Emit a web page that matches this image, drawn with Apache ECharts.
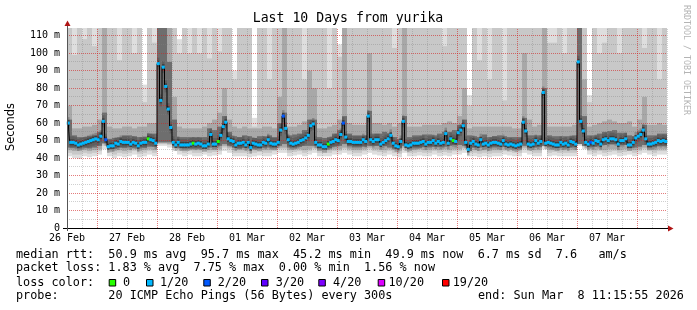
<!DOCTYPE html>
<html><head><meta charset="utf-8">
<script src="https://cdn.jsdelivr.net/npm/echarts@6.0.0/dist/echarts.min.js"></script>
<style>html,body{margin:0;padding:0;background:#fff}#c{width:697px;height:310px}</style>
</head><body><div id="c"></div>
<script>
// ---------- data ----------
const titleText = 'Last 10 Days from yurika';
const dayLabels = ['26 Feb','27 Feb','28 Feb','01 Mar','02 Mar','03 Mar','04 Mar','05 Mar','06 Mar','07 Mar'];
// hours since 26 Feb 12:00
const midnightHours = [12,36,60,84,108,132,156,180,204,228];
const minorHours = [6,18,24,30,42,48,54,66,72,78,90,96,102,114,120,126,138,144,150,162,168,174,186,192,198,210,216,222,234,240];
const majorValues = [10,20,30,40,50,60,70,80,90,100,110];
const minorValues = [5,15,25,35,45,55,65,75,85,95,105];
const Y_MAX = 114.4;

// hourly median rtt (ms), 240 bins
const median = [
60,49,49,48.5,47.5,48,48.5,49,49.5,50,
50.5,51,50.5,52.5,61,50.5,46.5,47,47,48.5,
48,49.5,49,49,49,48,49,48.5,47,48.5,
49,49,51,50.5,50,48.5,94,73,92,81,
68,57.5,49,47.5,49,47.5,47.5,47.5,47.5,48,
48.5,48,48.5,48,47,47,48,53.5,48,48,
49.5,53,58,60.5,51,50,49.5,47.5,48.5,48.5,
49,47.5,49,46,48.5,48,47.5,47.5,49,48.5,
50.5,48.5,48,48,49,56,64,57,50.5,48.5,
48,48.5,49,50,50.5,51.5,53,58.5,59.5,49,
47.5,47.5,46.5,46.5,48,49,49.5,50.5,50,53.5,
60,52,49.5,49.5,49,49,49,49,50.5,49.5,
64,50.5,49.5,50.5,50.5,48,49,50,51,53,
48.5,47,46.5,49.5,61,47.5,47,47.5,48.5,48.5,
48.5,49,49.5,48,49,49,50,48.5,49.5,48.5,
49,54,48.5,51,50,49.5,54.5,56,58.5,49,
45,48.5,49.5,48,47.5,50.5,48,48.5,47.5,48.5,
49,49,48.5,48,50,48,47.5,48,47.5,47,
47.5,48,60.5,55.5,48,47.5,48,50,48.5,49.5,
77.5,48.5,49,48.5,48,47.5,47.5,49,48,48.5,
47.5,49.5,49,48,95,61,55.5,49,48,49,
48.5,50,49.5,48,50.5,51,50,51,51,50.5,
48,50,50,51,47.5,47.5,49,51.5,52.5,53.5,
56,51,48,48,48.5,49,50,49.5,50,49.5
];
// lost pings out of 20 per hourly bin
const lossCount = [
1,1,1,1,1,1,1,1,1,1, 1,1,1,1,1,2,1,1,1,1, 1,1,1,1,1,1,1,1,1,1, 1,1,0,1,1,1,1,1,1,1,
1,1,1,1,1,1,1,1,1,1, 0,1,1,1,1,1,1,1,1,1, 0,1,1,1,1,1,1,1,1,1, 1,1,1,1,1,1,1,1,1,1,
1,1,1,1,1,1,2,1,1,1, 1,1,1,1,1,1,1,1,1,1, 1,1,1,1,0,1,1,1,1,1, 2,1,1,1,1,1,1,1,1,1,
1,1,1,1,1,1,1,1,1,1, 1,1,1,1,1,1,1,1,1,1, 1,1,1,1,1,1,1,1,1,1, 1,1,1,1,0,1,1,1,1,1,
1,1,1,1,1,1,1,1,1,1, 1,1,1,1,1,1,1,1,1,1, 1,1,1,1,1,1,1,1,1,1, 1,1,1,1,1,1,1,1,1,1,
1,1,1,1,1,1,1,1,1,2, 1,1,1,1,1,1,1,1,1,1, 1,1,1,1,1,1,1,1,1,1, 1,1,1,1,1,1,1,1,1,1
];
// smoke envelope per 2-hour bin (120 bins): outermost to innermost bands
const smokeMin = [
41,40,39.5,41,40.5,41,42,45,41,40, 41,40.5,41,42,40.5,41,42,41,47,47,
46,44,42,41,42,41,41,42,41,41.5, 42,44,43,41,41,41,40.5,41,41.5,41,
41,42,43,43,41,41.5,42,41,42,43, 41,41,41,42,42,43,42,41,41,42,
43,42,41.5,41,42,41,40.5,43,41,41, 41.5,41,41,42,41,41.5,41,42,42,43,
41,41,40.5,41,40.5,41,41,42,41.5,41, 41,43,42,41,41,45,41,41.5,41,41,
41,41,47,45,42,41,42,41,41.5,42, 41,41.5,42,41,42,43,42,41,42,42
];
const smokeMax = [
115,115,115,115,115,115,115,115,115,115, 115,115,115,115,115,82,115,115,115,115,
115,115,108,115,115,115,115,115,115,115, 115,115,115,90,115,115,115,63,115,115,
115,115,115,115,115,115,115,115,115,115, 115,115,115,115,105,115,115,115,115,115,
115,115,115,115,115,115,115,115,115,115, 115,115,115,115,115,115,115,115,115,115,
76,115,115,115,115,115,115,115,115,115, 115,115,115,115,115,115,115,115,115,115,
115,115,115,115,76,115,115,115,115,115, 115,115,115,115,115,115,115,115,115,115
];
const smokeLo2 = [
43,42,42,43,42.5,43,44,47,43,42, 43,42.5,43,44,42.5,43,44,43,48,48,
47.5,45.5,44,43,44,43,43,44,43,43.5, 44,46,45,43,43,43,42.5,43,43.5,43,
43,44,45,45,43,43.5,44,43,44,45, 43,43,43,44,44,45,44,43,43,44,
45,44,43.5,43,44,43,42.5,45,43,43, 43.5,43,43,44,43,43.5,43,44,44,45,
43,43,42.5,43,42.5,43,43,44,43.5,43, 43,45,44,43,43,46.5,43,43.5,43,43,
43,43,48,46.5,44,43,44,43,43.5,44, 43,43.5,44,43,44,45,44,43,44,44
];
const smokeHi2 = [
115,99,115,108,115,104,115,115,115,115, 96,115,115,100,115,72,115,106,115,115,
115,115,100,115,100,115,100,115,97,115, 101,115,115,85,115,115,115,58,115,115,
85,115,115,115,115,115,115,85,115,115, 115,115,80,115,98,115,115,115,115,115,
115,115,115,115,115,103,115,115,115,115, 115,115,115,115,115,104,115,115,115,115,
70,115,96,115,85,115,115,73,115,115, 115,115,115,115,115,115,106,106,115,100,
115,115,115,115,72,115,100,106,115,115, 100,115,115,115,115,103,115,115,85,115
];
const smokeLo3 = [
44.5,44,44,44.5,44,44.5,45,48,44.5,44, 44.5,44,44.5,45,44,44.5,45,44.5,48.5,48.5,
48,46.5,45,44.5,45,44.5,44.5,45,44.5,45, 45,47,46,44.5,44.5,44.5,44,44.5,45,44.5,
44.5,45,46,46,44.5,45,45,44.5,45,46, 44.5,44.5,44.5,45,45,46,45,44.5,44.5,45,
46,45,45,44.5,45,44.5,44,46,44.5,44.5, 45,44.5,44.5,45,44.5,45,44.5,45,45,46,
44.5,44.5,44,44.5,44,44.5,44.5,45,45,44.5, 44.5,46,45,44.5,44.5,47,44.5,45,44.5,44.5,
44.5,44.5,48.5,47,45,44.5,45,44.5,45,45, 44.5,45,45,44.5,45,46,45,44.5,45,45
];
const smokeHi3 = [
70,57,57,58,58,59,62,115,58,57, 57,58,58,57,58,58,60,60,115,115,
115,75,58,57,57,57,57,58,60,62, 66,80,62,58,57,58,57,57,57,58,
58,57,75,115,58,58,59,61,90,80, 57,57,58,59,62,115,60,59,59,59,
100,60,60,59,60,58,60,115,58,58, 58,59,59,59,59,60,61,60,64,80,
57,58,58,58,58,58,58,58,58,57, 57,100,62,58,59,115,58,58,58,58,
58,59,115,85,58,59,60,61,62,61, 60,60,61,58,62,75,59,59,60,59
];
const smokeLo4 = [
46,46,45.5,46,45.5,46,47,48.5,45.5,45.5, 46,46,46.5,46,46,46,46.5,46.5,49,49,
49,47,46,45.5,45.5,45.5,45.5,45.5,46,46.5, 47,48,47,46,45.5,46,45.5,45.5,45.5,46,
46,46,47,48,46,46,46.5,47,47,47, 45.5,45,45.5,46.5,47,48,47,46.5,46.5,46.5,
47,47,47,47,46,45.5,45.5,47,45.5,46, 46,46.5,46.5,46.5,46.5,46.5,47,47.5,47.5,47,
44,46,46,46.5,46,46.5,46.5,46.5,46,45.5, 45.5,47,46,46,46.5,47,46.5,46,46,46,
46,46.5,48,47,46.5,46.5,47,47.5,48,48, 47.5,47.5,46,46,46.5,47.5,46,46.5,47,47
];
const smokeHi4 = [
62,53,52,52,52.5,53,55,66,51,51.5, 52,53,53,52.5,52,52,54,54,115,115,
95,62,52,52,52,52,52,52,57,56, 58,64,55,52.5,52,53,52.5,51.5,52.5,52.5,
53,52,60,66,53,53.5,54,56,62,62, 52,51.5,52,54,56,64,54,53,53,53,
67,54,54,55,54,52,51,64,52,53, 53,53.5,53.5,53,54,55,55,56,59,62,
53,52.5,52,53.5,52,52.5,53,52.5,52,52, 52,63,53,53,53,80,53,52.5,52.5,52.5,
52.5,53,115,64,53,53,54,55,55.5,56, 54.5,54.5,53,52.5,55,59,53,53,54,54
];
// legend
const lossLegend = [
  {label:'0',     color:'#26ff00', box:108.7, text:123},
  {label:'1/20',  color:'#00b8ff', box:146,   text:160},
  {label:'2/20',  color:'#0059ff', box:203.3, text:217.7},
  {label:'3/20',  color:'#5e00ff', box:261,   text:275.7},
  {label:'4/20',  color:'#7e00ff', box:318.3, text:333},
  {label:'10/20', color:'#dd00ff', box:377.7, text:388.5},
  {label:'19/20', color:'#ff0000', box:442,   text:452.7}
];
const lossColorByCount = {0:'#26ff00',1:'#00b8ff',2:'#0059ff',3:'#5e00ff',4:'#7e00ff',10:'#dd00ff',19:'#ff0000'};
const statLines = [
  'median rtt:  50.9 ms avg  95.7 ms max  45.2 ms min  49.9 ms now  6.7 ms sd  7.6   am/s',
  'packet loss: 1.83 % avg  7.75 % max  0.00 % min  1.56 % now',
  'loss color:',
  'probe:       20 ICMP Echo Pings (56 Bytes) every 300s'
];
const endText = 'end: Sun Mar  8 11:15:55 2026';

// ---------- chart ----------
const MONO = 'DejaVu Sans Mono';
const chart = echarts.init(document.getElementById('c'), null, {renderer:'canvas', width:697, height:310});
const smokeData = smokeMin.map((v,j)=>[j*2, v, smokeMax[j], smokeLo2[j], smokeHi2[j], smokeLo3[j], smokeHi3[j], smokeLo4[j], smokeHi4[j]]);
const SMOKE_COLORS = ['#dedede','#c8c8c8','#a8a8a8','#6e6e6e'];
const medData = median.map((m,i)=>[i, m, lossCount[i]]);
const GREY_GRID = 'rgba(130,130,130,0.38)';
const RED_GRID = 'rgba(210,35,35,0.6)';
// grid line records: [orientation 0=horizontal 1=vertical, value]
const minorGridData = minorValues.map(v=>[0,v]).concat(minorHours.map(h=>[1,h]));
const majorGridData = majorValues.map(v=>[0,v]).concat(midnightHours.map(h=>[1,h]));

function renderSmoke(params, api){
  const h = api.value(0);
  const x0 = api.coord([h,0])[0], x1 = api.coord([h+2,0])[0];
  const ch = [];
  for(let b=0;b<4;b++){
    const lo = Math.min(api.value(1+2*b), Y_MAX), hi = Math.min(api.value(2+2*b), Y_MAX);
    const y0 = api.coord([0,lo])[1], y1 = api.coord([0,hi])[1];
    ch.push({type:'rect', shape:{x:x0, y:y1, width:x1-x0, height:y0-y1}, style:{fill:SMOKE_COLORS[b]}});
  }
  return {type:'group', children:ch};
}
function renderCore(params, api){
  const i = api.value(0);
  const x0 = api.coord([i,0])[0], x1 = api.coord([i+1,0])[0];
  const y = api.coord([0, Math.min(api.value(1), Y_MAX)])[1];
  return {type:'group', children:[
    {type:'rect', shape:{x:x0, y:y-6, width:x1-x0, height:12}, style:{fill:'rgba(60,60,60,0.3)'}},
    {type:'rect', shape:{x:x0, y:y-3, width:x1-x0, height:6}, style:{fill:'#3e3e3e'}}
  ]};
}
function renderDots(params, api){
  const i = api.value(0);
  const x0 = api.coord([i,0])[0], x1 = api.coord([i+1,0])[0];
  const y = api.coord([0, api.value(1)])[1];
  return {type:'rect', shape:{x:x0-0.3, y:y-1.5, width:x1-x0+0.6, height:3}, style:{fill:lossColorByCount[api.value(2)]}};
}
function makeGridRenderer(color){
  return function(params, api){
    const o = api.value(0), v = api.value(1);
    const style = {stroke:color, lineWidth:1, lineDash:[1,1]};
    if(o===0){
      const p0 = api.coord([0,v]), p1 = api.coord([240,v]);
      const y = Math.floor(p0[1]) + 0.5;
      return {type:'line', shape:{x1:p0[0], y1:y, x2:p1[0], y2:y}, style};
    }
    const p0 = api.coord([v,0]), p1 = api.coord([v,Y_MAX]);
    const x = Math.round(p0[0]) + 0.5;
    return {type:'line', shape:{x1:x, y1:p0[1], x2:x, y2:p1[1]}, style};
  };
}

const graphics = [
  {type:'text', x:348, y:19, style:{text:titleText, font:'13.2px "DejaVu Sans Mono"', fill:'#000', align:'center', verticalAlign:'middle'}},
  {type:'text', x:11, y:127, rotation:Math.PI/2, style:{text:'Seconds', font:'11.4px "DejaVu Sans"', fill:'#000', align:'center', verticalAlign:'middle'}},
  {type:'text', x:686, y:60, rotation:-Math.PI/2, style:{text:'RRDTOOL / TOBI OETIKER', font:'8.3px "DejaVu Sans Mono"', fill:'#b4b4b4', align:'center', verticalAlign:'middle'}},
  {type:'line', shape:{x1:63, y1:228.5, x2:669, y2:228.5}, style:{stroke:'#000', lineWidth:1}, z:20},
  {type:'line', shape:{x1:67.5, y1:231, x2:67.5, y2:24}, style:{stroke:'#555', lineWidth:1}, z:20},
  {type:'polygon', shape:{points:[[64.5,26],[70.5,26],[67.5,20.5]]}, style:{fill:'#b01515'}, z:21},
  {type:'polygon', shape:{points:[[668,225.5],[668,231.5],[673.5,228.5]]}, style:{fill:'#b01515'}, z:21}
];
const lineY = [254.5, 268.3, 282.6, 296.2];
statLines.forEach((t,k)=>graphics.push({type:'text', x:16, y:lineY[k], style:{text:t, font:'11.8px "DejaVu Sans Mono"', fill:'#000', verticalAlign:'middle'}}));
graphics.push({type:'text', x:478, y:lineY[3], style:{text:endText, font:'11.8px "DejaVu Sans Mono"', fill:'#000', verticalAlign:'middle'}});
lossLegend.forEach(l=>{
  graphics.push({type:'rect', shape:{x:l.box+0.5, y:279.5, width:6.5, height:6.5}, style:{fill:l.color, stroke:'#000', lineWidth:1}});
  graphics.push({type:'text', x:l.text, y:lineY[2], style:{text:l.label, font:'11.8px "DejaVu Sans Mono"', fill:'#000', verticalAlign:'middle'}});
});

chart.setOption({
  animation:false,
  backgroundColor:'#fff',
  grid:{left:67, top:28, width:600, height:200, containLabel:false},
  xAxis:[{
    type:'value', min:0, max:240, interval:6,
    axisLine:{show:false}, axisTick:{show:false}, splitLine:{show:false},
    axisLabel:{formatter:v=>(v%24===0 && v<240)?dayLabels[v/24]:'', fontFamily:MONO, fontSize:10, color:'#000', margin:5, showMaxLabel:false}
  }],
  yAxis:[{
    type:'value', min:0, max:Y_MAX, interval:10,
    axisLine:{show:false}, axisTick:{show:false}, splitLine:{show:false},
    axisLabel:{formatter:v=>v===0?'0':v+' m', showMaxLabel:false, fontFamily:MONO, fontSize:10, color:'#000', margin:7}
  }],
  graphic:graphics,
  series:[
    {type:'custom', name:'smoke', data:smokeData, renderItem:renderSmoke, encode:{x:0, y:1}, z:2, silent:true},
    {type:'custom', name:'core', data:medData, renderItem:renderCore, encode:{x:0, y:1}, z:3, silent:true},
    {type:'custom', name:'gridMinor', data:minorGridData, renderItem:makeGridRenderer(GREY_GRID), z:5, silent:true},
    {type:'custom', name:'gridMajor', data:majorGridData, renderItem:makeGridRenderer(RED_GRID), z:6, silent:true},
    {type:'line', name:'median', data:median.map((m,i)=>[i+0.5, Math.min(m, Y_MAX)]), step:'middle', showSymbol:false, symbol:'none',
     lineStyle:{color:'#000', width:1}, z:8, silent:true},
    {type:'custom', name:'loss', data:medData, renderItem:renderDots, encode:{x:0, y:1}, z:9, silent:true}
  ]
});
</script></body></html>
